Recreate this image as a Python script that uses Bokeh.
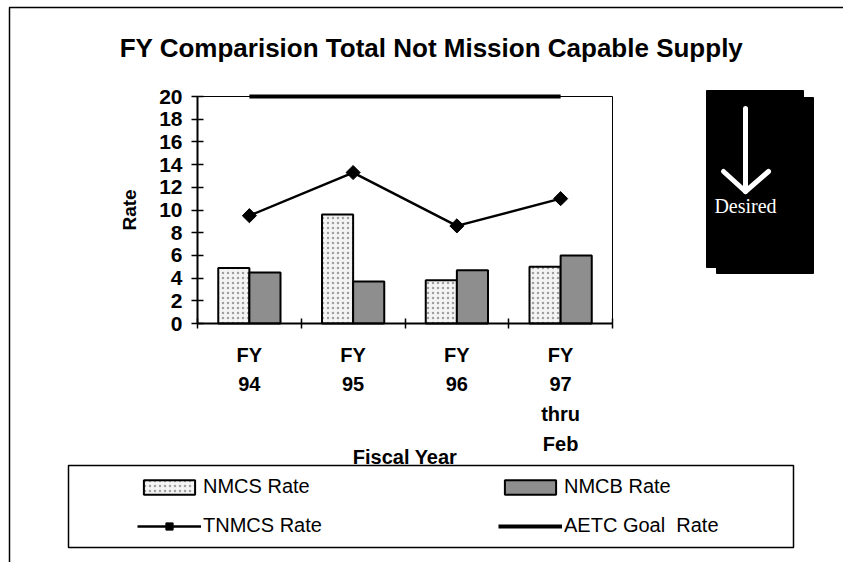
import numpy as np
from bokeh.plotting import figure
from bokeh.models import (ColumnDataSource, Range1d, FixedTicker, Legend, LegendItem,
                          Label, BoxAnnotation, Arrow, LinearAxis)
from bokeh.transform import dodge
from bokeh.embed import file_html
from bokeh.resources import INLINE

# ---- data ----
title_text = "FY Comparision Total Not Mission Capable Supply"
categories = ["FY\n94", "FY\n95", "FY\n96", "FY\n97\nthru\nFeb"]
nmcs_rate = [4.9, 9.6, 3.8, 5.0]
nmcb_rate = [4.5, 3.7, 4.7, 6.0]
tnmcs_rate = [9.5, 13.3, 8.6, 11.0]
aetc_goal = [20, 20, 20, 20]
y_ticks = [0, 2, 4, 6, 8, 10, 12, 14, 16, 18, 20]
series_names = ["NMCS Rate", "NMCB Rate", "TNMCS Rate", "AETC Goal  Rate"]
x_title = "Fiscal Year"
y_title = "Rate"
note_text = "Desired"

# ---- layout: the frame fills the whole canvas; plot area mapped by ranges ----
W, H = 843, 562
X_LO, X_HI = -0.5, len(categories) - 0.5
Y_LO, Y_HI = 0, 20
PA_L, PA_R, PA_T, PA_B = 197, 612, 96, 323   # plot-area pixel box
kx = (PA_R - PA_L) / (X_HI - X_LO)
ky = (PA_B - PA_T) / (Y_HI - Y_LO)
x_range = Range1d(X_LO - PA_L / kx, X_HI + (W - PA_R) / kx)
y_range = Range1d(Y_LO - (H - PA_B) / ky, Y_HI + PA_T / ky)


def sx(px):
    return px


def sy(py):
    return H - py


FONT = "Liberation Sans"

p = figure(width=W, height=H, output_backend="svg", toolbar_location=None,
           x_range=x_range, y_range=y_range, title=None,
           x_axis_location=None, y_axis_location=None,
           min_border=0, min_border_left=0, min_border_right=0,
           min_border_top=0, min_border_bottom=0,
           background_fill_color="white", border_fill_color="white")
p.outline_line_color = None
p.xgrid.visible = False
p.ygrid.visible = False

src = ColumnDataSource(dict(x=list(range(len(categories))), nmcs=nmcs_rate,
                            nmcb=nmcb_rate, tnmcs=tnmcs_rate, goal=aetc_goal))

# plot-area border (top/right edges)
p.add_layout(BoxAnnotation(left=X_LO, right=X_HI, bottom=Y_LO, top=Y_HI,
                           fill_alpha=0, line_color="black", line_alpha=1, line_width=1))

r_nmcs = p.vbar(x=dodge("x", -0.15, range=p.x_range), top="nmcs", width=0.3,
                source=src, fill_color="#f4f4f4", line_color="black", line_width=2,
                hatch_pattern="dot", hatch_color="#a0a0a0", hatch_scale=5,
                hatch_weight=1)
r_nmcb = p.vbar(x=dodge("x", 0.15, range=p.x_range), top="nmcb", width=0.3,
                source=src, fill_color="#8e8e8e", line_color="black", line_width=2)
r_tl = p.line("x", "tnmcs", source=src, line_color="black", line_width=2.5)
r_tm = p.scatter("x", "tnmcs", source=src, marker="square", angle=np.pi / 4,
                 size=10, fill_color="black", line_color="black")
r_goal = p.line("x", "goal", source=src, line_color="black", line_width=4)

# ---- axes ----
xa = LinearAxis(fixed_location=Y_LO, bounds=(X_LO, X_HI))
xa.ticker = FixedTicker(ticks=list(range(len(categories))),
                        minor_ticks=[X_LO + i for i in range(len(categories) + 1)])
xa.major_label_overrides = {i: c for i, c in enumerate(categories)}
xa.major_tick_in = 0
xa.major_tick_out = 0
xa.minor_tick_in = 5
xa.minor_tick_out = 5
xa.minor_tick_line_color = "black"
xa.minor_tick_line_width = 1.5
xa.axis_line_width = 2
xa.axis_line_color = "black"
xa.major_label_text_font = FONT
xa.major_label_text_font_style = "bold"
xa.major_label_text_font_size = "20px"
xa.major_label_text_color = "black"
xa.major_label_text_line_height = 1.36
xa.major_label_standoff = 15
xa.axis_label = x_title
xa.axis_label_text_font = FONT
xa.axis_label_text_font_style = "bold"
xa.axis_label_text_font_size = "20px"
xa.axis_label_text_color = "black"
xa.axis_label_standoff = -12
p.add_layout(xa, "below")

ya = LinearAxis(fixed_location=X_LO, bounds=(Y_LO, Y_HI))
ya.ticker = FixedTicker(ticks=y_ticks)
ya.major_tick_in = 6
ya.major_tick_out = 6
ya.major_tick_line_color = "black"
ya.major_tick_line_width = 1.5
ya.minor_tick_line_color = None
ya.axis_line_width = 2
ya.axis_line_color = "black"
ya.major_label_text_font = FONT
ya.major_label_text_font_style = "bold"
ya.major_label_text_font_size = "21px"
ya.major_label_text_color = "black"
ya.major_label_standoff = 9
ya.axis_label = y_title
ya.axis_label_text_font = FONT
ya.axis_label_text_font_style = "bold"
ya.axis_label_text_font_size = "19px"
ya.axis_label_text_color = "black"
ya.axis_label_standoff = 16
p.add_layout(ya, "left")

# ---- decorations (screen units) ----
def box(l, t, r, b, **kw):
    return BoxAnnotation(left=sx(l), right=sx(r), top=sy(t), bottom=sy(b),
                         left_units="screen", right_units="screen",
                         top_units="screen", bottom_units="screen", **kw)


p.add_layout(box(9, 7, 2000, 2000, fill_alpha=0, line_color="black", line_alpha=1,
                 line_width=1.5))
p.add_layout(box(68, 465, 793, 547, fill_alpha=0, line_color="black", line_alpha=1,
                 line_width=1.5))
p.add_layout(box(706, 90, 803, 267, fill_color="black", fill_alpha=1,
                 line_color="black", line_alpha=1))
p.add_layout(box(716, 97, 813, 273, fill_color="black", fill_alpha=1,
                 line_color="black", line_alpha=1))

for (x0, y0, x1, y1) in [(745, 108, 745, 190), (723, 171, 745, 191), (768, 171, 745, 191)]:
    p.add_layout(Arrow(x_start=sx(x0), y_start=sy(y0), x_end=sx(x1), y_end=sy(y1),
                       start_units="screen", end_units="screen", end=None,
                       line_color="white", line_width=5, line_cap="round"))

p.add_layout(Label(x=sx(745), y=sy(205), x_units="screen", y_units="screen",
                   text=note_text, text_align="center", text_baseline="middle",
                   text_font="Liberation Serif", text_font_size="20px",
                   text_color="white"))

p.add_layout(Label(x=sx(431), y=sy(47), x_units="screen", y_units="screen",
                   text=title_text, text_align="center", text_baseline="middle",
                   text_font=FONT, text_font_style="bold", text_font_size="26px",
                   text_color="black"))

# ---- legends ----
def make_legend(items, left_px, bottom_px):
    return Legend(items=items, location=(sx(left_px), sy(bottom_px)),
                  border_line_alpha=0, background_fill_alpha=0, padding=0, margin=0,
                  spacing=16, glyph_width=64, glyph_height=18, label_height=20,
                  label_standoff=2, label_text_font=FONT, label_text_font_size="20px",
                  label_text_color="black")


legA = make_legend([LegendItem(label=series_names[0], renderers=[r_nmcs]),
                    LegendItem(label=series_names[2], renderers=[r_tl, r_tm])], 137, 537)
legB = make_legend([LegendItem(label=series_names[1], renderers=[r_nmcb]),
                    LegendItem(label=series_names[3], renderers=[r_goal])], 498, 537)
p.add_layout(legA)
p.add_layout(legB)

open("out.html", "w").write(file_html(p, INLINE))
